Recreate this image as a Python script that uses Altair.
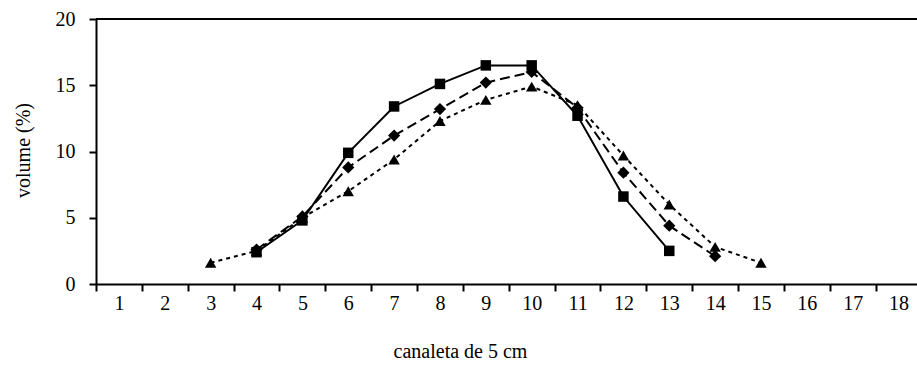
import altair as alt
import pandas as pd

# Channel (canaleta) categories along the x axis
categorias = [str(i) for i in range(1, 19)]

# Series drawn with filled squares and a solid line
quadrado_canaleta = ["4", "5", "6", "7", "8", "9", "10", "11", "12", "13"]
quadrado_volume = [2.4, 4.8, 9.9, 13.4, 15.1, 16.5, 16.5, 12.7, 6.6, 2.5]

# Series drawn with diamonds and a dashed line
losango_canaleta = ["4", "5", "6", "7", "8", "9", "10", "11", "12", "13", "14"]
losango_volume = [2.6, 5.1, 8.8, 11.2, 13.2, 15.2, 16.0, 13.3, 8.4, 4.4, 2.1]

# Series drawn with triangles and a dotted line
triangulo_canaleta = ["3", "4", "5", "6", "7", "8", "9", "10", "11", "12", "13", "14", "15"]
triangulo_volume = [1.6, 2.5, 5.0, 7.0, 9.4, 12.3, 13.9, 14.9, 13.5, 9.7, 6.0, 2.8, 1.6]

y_ticks = [0, 5, 10, 15, 20]

FONT = "Liberation Serif"

frames = []
for nome, cats, vals in [
    ("triangulo", triangulo_canaleta, triangulo_volume),
    ("losango", losango_canaleta, losango_volume),
    ("quadrado", quadrado_canaleta, quadrado_volume),
]:
    frames.append(pd.DataFrame({"canaleta": cats, "volume": vals, "serie": nome}))
df = pd.concat(frames, ignore_index=True)

X = alt.X(
    "canaleta:O",
    sort=categorias,
    scale=alt.Scale(type="band", domain=categorias, range=[0, 825.5],
                    paddingInner=0, paddingOuter=0),
    axis=alt.Axis(
        tickBand="extent", labelAngle=0, grid=False,
        labelFont=FONT, labelFontSize=20, labelColor="black", labelPadding=2,
        tickSize=7, tickWidth=2, tickColor="black",
        domainColor="black", domainWidth=2,
        title="canaleta de 5 cm", titleFont=FONT, titleFontSize=20,
        titleFontWeight="normal", titleColor="black",
        titleX=364, titleY=73, titleAlign="center", titleBaseline="alphabetic",
    ),
)

Y = alt.Y(
    "volume:Q",
    scale=alt.Scale(domain=[0, 20], nice=False, zero=True),
    axis=alt.Axis(
        values=y_ticks, grid=False,
        labelFont=FONT, labelFontSize=20, labelColor="black", labelPadding=14,
        tickSize=7, tickWidth=2, tickColor="black",
        domainColor="black", domainWidth=2,
        title="volume (%)", titleFont=FONT, titleFontSize=20,
        titleFontWeight="normal", titleColor="black",
        titleAngle=270, titleX=-67, titleY=131,
        titleAlign="center", titleBaseline="alphabetic",
    ),
)

base = alt.Chart(df).encode(x=X, y=Y)

estilos = {
    "triangulo": ("triangle-up", [4, 4], 130),
    "losango": ("diamond", [10, 5], 150),
    "quadrado": ("square", None, 110),
}

layers = []
# frame line along the top of the plot area
top = alt.Chart(pd.DataFrame({"volume": [20]})).mark_rule(
    color="black", strokeWidth=2
).encode(y=Y, x=alt.value(0), x2=alt.value(826))
layers.append(top)

for nome, (shape, dash, size) in estilos.items():
    sub = base.transform_filter(alt.datum.serie == nome)
    line_kwargs = dict(color="black", strokeWidth=2)
    if dash is not None:
        line_kwargs["strokeDash"] = dash
    layers.append(sub.mark_line(**line_kwargs))
    layers.append(
        sub.mark_point(shape=shape, filled=True, size=size, color="black", opacity=1)
    )

chart = alt.layer(*layers).properties(
    width=821,
    height=265,
    autosize=alt.AutoSizeParams(type="none"),
    padding={"left": 96, "top": 19, "right": 0, "bottom": 91},
).configure_view(stroke=None).configure(background="white")

chart.save("out.html", embed_options={"renderer": "svg", "actions": False})
